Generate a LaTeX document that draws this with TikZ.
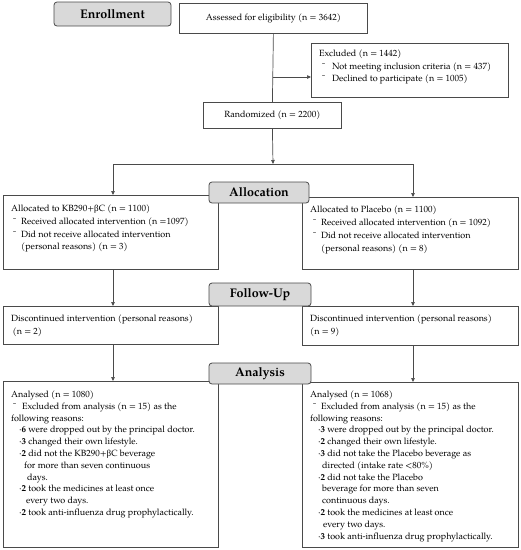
\documentclass[tikz,border=0pt]{standalone}
\usepackage{fontspec}
\setmainfont{TeX Gyre Pagella}
\newfontfamily\grk{Liberation Serif}
\usetikzlibrary{arrows.meta}
\definecolor{ln}{HTML}{4A4A4A}
\definecolor{hd}{HTML}{D9D9D9}
\tikzset{
 box/.style={draw=ln, line width=0.8pt, rectangle, inner sep=0pt, anchor=north west, font=\fontsize{9}{11.8}\selectfont},
 head/.style={draw=ln, fill=hd, line width=0.8pt, rounded corners=3pt, inner sep=0pt, font=\fontsize{12.5}{14}\selectfont\bfseries},
 txt/.style={inner sep=0pt, anchor=north west, align=left, font=\fontsize{9}{11.8}\selectfont},
 txtw/.style={txt, font=\fontsize{9}{12.8}\selectfont},
 conn/.style={draw=ln, line width=0.7pt},
 arr/.style={conn, -{Triangle[length=4pt,width=3.5pt]}},
}
\newcommand{\mc}{\makebox[8pt][l]{¯}}
\newcommand{\dt}{\makebox[2.5pt][l]{·}}
\newcommand{\bc}{{\grk β}C}
\begin{document}
\begin{tikzpicture}[x=1pt,y=-1pt]
\useasboundingbox (0,0) rectangle (521,550);
% content boxes
\node[box, minimum width=188pt, minimum height=30pt] (ass) at (179,3) {Assessed for eligibility (n = 3642)};
\node[box, minimum width=197pt, minimum height=54pt] (exc) at (311,43) {};
\node[box, minimum width=138pt, minimum height=26pt] (ran) at (203,102) {Randomized (n = 2200)};
\node[box, minimum width=215pt, minimum height=74pt] (alL) at (3,195) {};
\node[box, minimum width=216pt, minimum height=72pt] (alR) at (302,197) {};
\node[box, minimum width=215pt, minimum height=38pt] (fuL) at (3,306) {};
\node[box, minimum width=216pt, minimum height=39pt] (fuR) at (302,306) {};
\node[box, minimum width=215pt, minimum height=166pt] (anL) at (3,381) {};
\node[box, minimum width=216pt, minimum height=165pt] (anR) at (302,382) {};
% texts
\node[txt, font=\fontsize{9}{12.3}\selectfont] (excT) at (319,50) {Excluded (n = 1442)\\
\hspace*{3pt}\makebox[10pt][l]{¯}Not meeting inclusion criteria (n = 437)\\
\hspace*{3pt}\makebox[10pt][l]{¯}Declined to participate (n = 1005)};
\node[txtw] (alLT) at (11,204.5) {Allocated to KB290+\bc{} (n = 1100)\\
\hspace*{2pt}\mc Received allocated intervention (n =1097)\\
\hspace*{2pt}\mc Did not receive allocated intervention\\
\hspace*{10pt}(personal reasons) (n = 3)};
\node[txtw] (alRT) at (310,206) {Allocated to Placebo (n = 1100)\\
\hspace*{3pt}\mc Received allocated intervention (n = 1092)\\
\hspace*{3pt}\mc Did not receive allocated intervention\\
\hspace*{11pt}(personal reasons) (n = 8)};
\node[txtw] (fuLT) at (11,314.5) {Discontinued intervention (personal reasons)\\
\hspace*{1.5pt}(n = 2)};
\node[txtw] (fuRT) at (310,314.5) {Discontinued intervention (personal reasons)\\
(n = 9)};
\node[txt] (anLT) at (11,390.5) {Analysed (n = 1080)\\
\hspace*{2pt}\makebox[9pt][l]{¯}Excluded from analysis (n = 15) as the\\
following reasons:\\
\hspace*{8pt}\dt\textbf{6} were dropped out by the principal doctor.\\
\hspace*{8pt}\dt\textbf{3} changed their own lifestyle.\\
\hspace*{8pt}\dt\textbf{2} did not the KB290+\bc{} beverage\\
\hspace*{13pt}for more than seven continuous\\
\hspace*{16pt}days.\\
\hspace*{8pt}\dt\textbf{2} took the medicines at least once\\
\hspace*{15pt}every two days.\\
\hspace*{8pt}\dt\textbf{2} took anti-influenza drug prophylactically.};
\node[txt] (anRT) at (310,390.5) {Analysed (n = 1068)\\
\hspace*{3pt}\makebox[8pt][l]{¯}Excluded from analysis (n = 15) as the\\
following reasons:\\
\hspace*{8pt}\dt\textbf{3} were dropped out by the principal doctor.\\
\hspace*{8pt}\dt\textbf{2} changed their own lifestyle.\\
\hspace*{8pt}\dt\textbf{3} did not take the Placebo beverage as\\
\hspace*{12pt}directed (intake rate <80\%)\\
\hspace*{8pt}\dt\textbf{2} did not take the Placebo\\
\hspace*{12pt}beverage for more than seven\\
\hspace*{12pt}continuous days.\\
\hspace*{8pt}\dt\textbf{2} took the medicines at least once\\
\hspace*{13pt}every two days.\\
\hspace*{8pt}\dt\textbf{3} took anti-influenza drug prophylactically.};
% connectors
\coordinate (br) at (273,77);
\coordinate (sp) at (273,164);
\coordinate (spL) at (113,164);
\coordinate (spR) at (413,164);
\draw[conn] (ass.south) -- (ran.north);
\draw[arr] (br) -- (br -| exc.west);
\draw[arr] (ran.south) -- (sp);
\draw[conn] (spL) -- (spR);
\draw[arr] (spL) -- (spL |- alL.north);
\draw[arr] (spR) -- (spR |- alR.north);
\draw[arr] (spL |- alL.south) -- (spL |- fuL.north);
\draw[arr] (spR |- alR.south) -- (spR |- fuR.north);
\draw[arr] (spL |- fuL.south) -- (spL |- anL.north);
\draw[arr] (spR |- fuR.south) -- (spR |- anR.north);
% headings
\node[head, minimum width=117pt, minimum height=24pt] (enr) at (112.5,14) {Enrollment};
\node[head, minimum width=100pt, minimum height=21pt] (alc) at (259,192.5) {Allocation};
\node[head, minimum width=102pt, minimum height=23pt] (fu) at (260,294.5) {Follow-Up};
\node[head, minimum width=102pt, minimum height=21pt] (an) at (260,373.5) {Analysis};
\end{tikzpicture}
\end{document}
